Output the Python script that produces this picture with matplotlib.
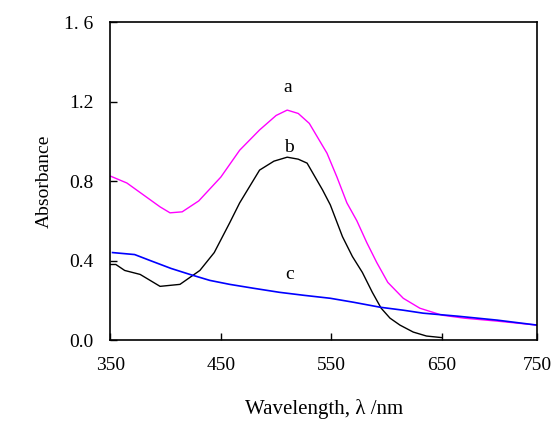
import matplotlib
matplotlib.use("Agg")
import matplotlib.pyplot as plt

# curve a (magenta)
wl_a = [350, 365, 380, 395, 404, 415, 430, 450, 467, 485, 500, 510, 520, 530, 546, 555, 564, 573, 582, 591, 601, 615, 630, 650, 670, 700, 736]
abs_a = [0.825, 0.79, 0.73, 0.67, 0.64, 0.645, 0.70, 0.82, 0.955, 1.057, 1.13, 1.157, 1.14, 1.09, 0.94, 0.82, 0.69, 0.60, 0.49, 0.39, 0.29, 0.21, 0.16, 0.125, 0.11, 0.095, 0.075]

# curve b (black)
wl_b = [350, 355, 363, 377, 395, 413, 431, 444, 458, 467, 485, 498, 510, 520, 528, 542, 549, 560, 569, 578, 587, 595, 603, 612, 624, 636, 650]
abs_b = [0.38, 0.38, 0.35, 0.33, 0.27, 0.28, 0.35, 0.44, 0.59, 0.69, 0.855, 0.90, 0.92, 0.91, 0.89, 0.755, 0.68, 0.52, 0.42, 0.34, 0.24, 0.16, 0.11, 0.075, 0.04, 0.02, 0.012]

# curve c (blue)
wl_c = [352, 372, 386, 405, 422, 440, 458, 480, 503, 525, 549, 570, 594, 615, 633, 664, 700, 736]
abs_c = [0.44, 0.43, 0.40, 0.36, 0.33, 0.30, 0.28, 0.26, 0.24, 0.225, 0.21, 0.19, 0.165, 0.15, 0.135, 0.12, 0.10, 0.075]

xtick_pos = [350, 450, 550, 650, 736]
xtick_labels = ["350", "450", "550", "650", "750"]
ytick_pos = [0.0, 0.4, 0.8, 1.2, 1.6]
ytick_labels = ["0.0", "0.4", "0.8", "1.2", "1. 6"]

plt.rcParams["font.family"] = ["Liberation Serif", "DejaVu Serif"]

fig = plt.figure(figsize=(5.6, 4.41), dpi=100)
ax = fig.add_axes([0.197, 0.229, 0.762, 0.721])

ax.plot(wl_a, abs_a, color="#ff00ff", lw=1.0)
ax.plot(wl_b, abs_b, color="black", lw=1.0)
ax.plot(wl_c, abs_c, color="#0000ff", lw=1.2)

ax.text(510, 1.27, "a", fontsize=14, ha="center", va="center")
ax.text(512, 0.97, "b", fontsize=14, ha="center", va="center")
ax.text(512, 0.33, "c", fontsize=14, ha="center", va="center")

ax.set_xlim(350, 736)
ax.set_ylim(0, 1.6)
ax.set_xticks(xtick_pos)
ax.set_xticklabels(xtick_labels, fontsize=14)
ax.set_yticks(ytick_pos)
ax.set_yticklabels(ytick_labels, fontsize=14)
ax.tick_params(direction="in", length=5, width=1, pad=12)
for s in ax.spines.values():
    s.set_linewidth(1.2)

ax.set_xlabel("Wavelength, λ /nm", fontsize=15, labelpad=18)
ax.set_ylabel("Absorbance", fontsize=14, labelpad=8)

fig.savefig("out.png", dpi=100)
